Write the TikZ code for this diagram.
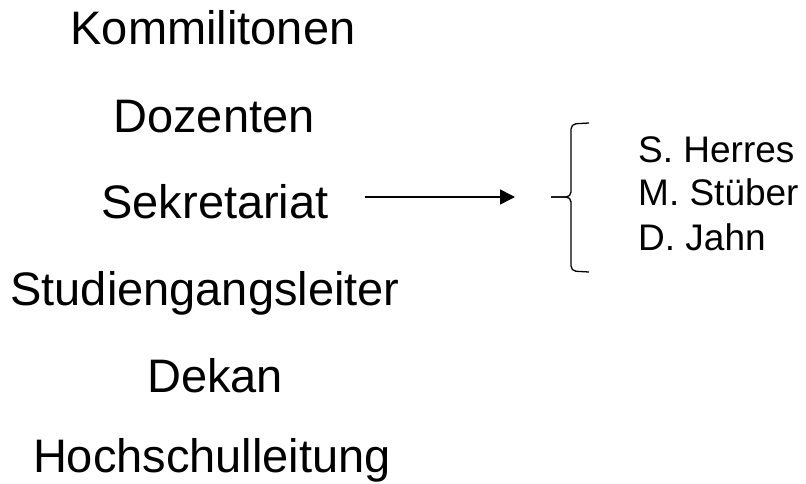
\documentclass[tikz,border=0pt]{standalone}
\usepackage{fontspec}
\setmainfont{Liberation Sans}
\usetikzlibrary{arrows.meta}
\begin{document}
\begin{tikzpicture}[x=1pt,y=-1pt,
  big/.style={anchor=base,inner sep=0pt,font=\fontsize{47}{54}\selectfont},
  small/.style={anchor=base west,inner sep=0pt,font=\fontsize{37}{42}\selectfont},
  conn/.style={line width=1.6pt,-{Triangle[length=15pt,width=15pt]}},
  bracestyle/.style={line width=1.3pt,rounded corners=5pt}]
\useasboundingbox (0,0) rectangle (806,484);
\node[big] (k) at (213,45) {Kommilitonen};
\node[big] (d) at (214,133) {Dozenten};
\node[big] (s) at (215,218) {Sekretariat};
\node[big] (sl) at (205,305) {Studiengangsleiter};
\node[big] (de) at (215,392) {Dekan};
\node[big] (h) at (212,472) {Hochschulleitung};
\node[small] (n1) at (638,163) {S. Herres};
\node[small] (n2) at (638,205) {M. Stüber};
\node[small] (n3) at (638,250) {D. Jahn};
\coordinate (astart) at (365,197);
\coordinate (aend) at (515,197);
\coordinate (tip) at (551,197);
\draw[conn] (astart) -- (aend);
\draw[bracestyle] (589,123) -- (571,124) -- (571,197) -- (tip);
\draw[bracestyle] (589,272) -- (571,271) -- (571,197) -- (tip);
\end{tikzpicture}
\end{document}
